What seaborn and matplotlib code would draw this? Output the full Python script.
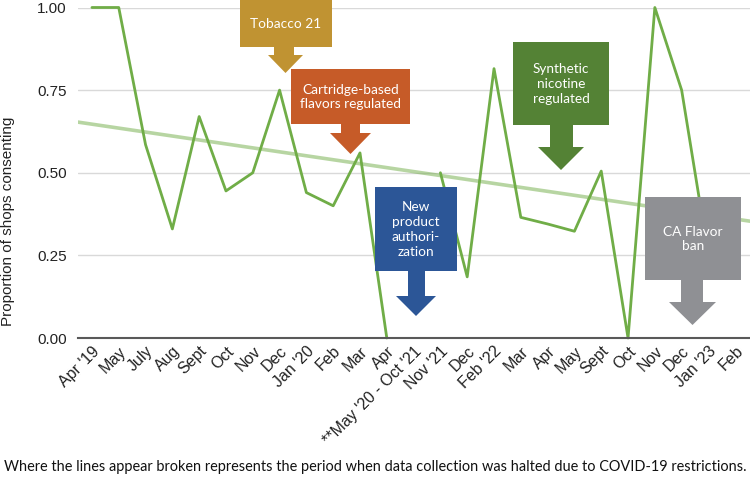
import numpy as np
import pandas as pd
import matplotlib
matplotlib.use("Agg")
import matplotlib.pyplot as plt
import seaborn as sns
from matplotlib.patches import Polygon, Rectangle

# ---------------- data ----------------
months = ["Apr '19", "May", "July", "Aug", "Sept", "Oct", "Nov", "Dec",
          "Jan '20", "Feb", "Mar", "Apr", "**May '20 - Oct '21", "Nov '21",
          "Dec", "Feb '22", "Mar", "Apr", "May", "Sept", "Oct", "Nov", "Dec",
          "Jan '23", "Feb"]
proportion = [1.00, 1.00, 0.585, 0.33, 0.67, 0.445, 0.50, 0.75, 0.44, 0.40,
              0.56, 0.00, np.nan, 0.50, 0.185, 0.815, 0.365, 0.345, 0.323,
              0.505, 0.00, 1.00, 0.75, 0.25, 0.33]
trend_first_last = [0.647, 0.360]   # trend value at first and last category
yticks = [0.00, 0.25, 0.50, 0.75, 1.00]

callout_labels = ["Tobacco 21", "Cartridge-based\nflavors regulated",
                  "New\nproduct\nauthori-\nzation", "Synthetic\nnicotine\nregulated",
                  "CA Flavor\nban"]
callout_colors = ["#C09332", "#C65B28", "#2C5697", "#548235", "#8F9094"]
caption = ("Where the lines appear broken represents the period when data "
           "collection was halted due to COVID-19 restrictions.")

# ---------------- layout (pixels from top-left of 750x480) ----------------
W, H = 750, 480
callout_geom = [
    # box(x0,y0,x1,y1), shaft(xl,xr), head(xl,xr,ytop,ytip)
    ((240, -2, 332, 47), (274, 294), (268, 303, 55, 73)),
    ((291, 69, 410, 124), (341, 360), (330, 371, 133, 154)),
    ((375, 187, 457, 271), (408, 425), (396, 436, 296, 316)),
    ((513, 42, 609, 125), (550, 573), (538, 584, 147, 170)),
    ((645, 197, 741, 280), (681, 703), (669, 716, 302, 325)),
]

sns.set_style("white")
plt.rcParams["font.family"] = ["Liberation Sans", "DejaVu Sans"]

fig = plt.figure(figsize=(7.5, 4.8), dpi=100)
ax = fig.add_axes([78 / W, 1 - 338 / H, 1 - 78 / W, (338 - 7.5) / H])

xlim = (-0.52, 24.55)
df = pd.DataFrame({"x": np.arange(len(months)), "y": proportion})
df["segment"] = df["y"].isna().cumsum()

# trend line across the whole plotting area
n = len(months)
slope = (trend_first_last[1] - trend_first_last[0]) / (n - 1)
tx = np.array(xlim)
ty = trend_first_last[0] + slope * tx
sns.lineplot(x=tx, y=ty, color="#70AD47", alpha=0.5, lw=2.6, ax=ax, zorder=2)

sns.lineplot(data=df.dropna(), x="x", y="y", units="segment", estimator=None,
             color="#70AD47", lw=2.0, ax=ax, zorder=3, clip_on=False)

ax.set_xlim(*xlim)
ax.set_ylim(0, 1.0)
ax.set_xticks(np.arange(n))
ax.set_xticklabels(months, rotation=45, ha="right", va="top",
                   rotation_mode="anchor", fontsize=11.5, color="#222222")
ax.set_yticks(yticks)
ax.set_yticklabels([f"{v:.2f}" for v in yticks], fontsize=11, color="#222222")
ax.tick_params(axis="both", length=0)
ax.tick_params(axis="y", pad=8)
ax.tick_params(axis="x", pad=4)
ax.yaxis.grid(True, color="#D9D9D9", lw=1.0)
ax.set_axisbelow(True)
ax.set_xlabel("")
ax.set_ylabel("")
for s in ["left", "right", "top"]:
    ax.spines[s].set_visible(False)
ax.spines["bottom"].set_color("#595959")
ax.spines["bottom"].set_linewidth(1.5)
ax.spines["bottom"].set_zorder(4)


def fx(x):
    return x / W


def fy(y):
    return 1 - y / H


fig.text(fx(8), fy(221), "Proportion of shops consenting", rotation=90,
         ha="center", va="center", fontsize=11, color="#222222")

for label, color, (box, shaft, head) in zip(callout_labels, callout_colors, callout_geom):
    x0, y0, x1, y1 = box
    sl, sr = shaft
    hl, hr, hy, ty_ = head
    fig.patches.append(Rectangle((fx(x0), fy(y1)), fx(x1) - fx(x0), fy(y0) - fy(y1),
                                 transform=fig.transFigure, facecolor=color,
                                 edgecolor="none", zorder=10))
    pts = [(sl, y1 - 1), (sr, y1 - 1), (sr, hy), (hr, hy), ((hl + hr) / 2, ty_),
           (hl, hy), (sl, hy)]
    fig.patches.append(Polygon([(fx(a), fy(b)) for a, b in pts], closed=True,
                               transform=fig.transFigure, facecolor=color,
                               edgecolor="none", zorder=10))
    fig.text(fx((x0 + x1) / 2), fy((max(y0, 0) + y1) / 2 + 0.5), label,
             ha="center", va="center", color="white", family=["Lato", "DejaVu Sans"],
             fontsize=9.8, linespacing=1.27, zorder=11)

fig.text(4 / W, fy(467), caption, ha="left", va="center",
         family=["Lato", "DejaVu Sans"], fontsize=10.45, color="#111111")

fig.savefig("out.png", dpi=100)
